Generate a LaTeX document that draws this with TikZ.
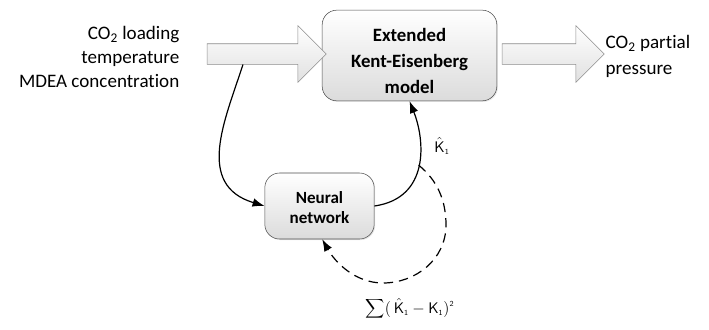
\documentclass[tikz,border=0pt]{standalone}
\usepackage{fontspec}
\setmainfont{Carlito}[Ligatures=NoCommon]
\usetikzlibrary{shapes,arrows.meta,shadows}
\tikzstyle{block} = [rectangle, rounded corners=11pt, draw=black!70,
    top color=white, bottom color=black!14, align=center,
    drop shadow={opacity=0.2, shadow xshift=0.8pt, shadow yshift=-0.8pt}]
\tikzstyle{fatarrow} = [single arrow, draw=black!45, top color=white,
    bottom color=black!12, inner sep=0pt, inner ysep=7.5pt,
    single arrow head extend=13.5pt]
\tikzstyle{line} = [draw, line width=0.9pt, -{Latex[length=9pt,width=6.5pt]}]
\tikzstyle{feedback} = [line, dash pattern=on 7pt off 4.5pt]

\begin{document}
\begin{tikzpicture}[x=0.75pt, y=-0.75pt]
    \useasboundingbox (0,0) rectangle (709,329);
    % Place nodes
    \node [block, minimum width=131pt, minimum height=68pt,
        font=\fontsize{14.1}{19.8}\selectfont\bfseries] (kent) at (409.5,55.5)
        {\rule{0pt}{18pt}Extended\\Kent-Eisenberg\\model};
    \node [block, minimum width=82pt, minimum height=49.5pt,
        font=\fontsize{12.8}{15}\selectfont\bfseries] (neural) at (319.5,206)
        {\rule{0pt}{12pt}Neural\\network};
    \node [fatarrow, minimum height=89.25pt] (inarrow) at (261.5,54) {};
    \node [fatarrow, minimum height=76.5pt] (outarrow) at (548,54) {};
    \node [anchor=east, align=right, font=\fontsize{14.3}{18}\selectfont] (inputs) at (184,57)
        {CO\textsubscript{2} loading\\temperature\\MDEA concentration};
    \node [anchor=west, align=left, font=\fontsize{14.3}{19.5}\selectfont] (output) at (601,56.5)
        {CO\textsubscript{2} partial\\pressure};
    \node [font=\fontsize{11.5}{13}\selectfont] (khat) at (442,146)
        {$\hat{\mathsf{K}}_{\scriptscriptstyle\mathsf{1}}$};
    \node [font=\fontsize{11.5}{13}\selectfont] (loss) at (410,309)
        {$\displaystyle\sum(\,\hat{\mathsf{K}}_{\scriptscriptstyle\mathsf{1}}-\mathsf{K}_{\scriptscriptstyle\mathsf{1}})^{\scriptscriptstyle\mathsf{2}}$};

    % Connectors
    \path [line] ([xshift=-13.9pt]inarrow.south) .. controls (225,120) and (195,185) .. (neural.west);
    \path [line] (neural.east) .. controls (430,198) and (425,140) .. (kent.south)
        coordinate [pos=0.5] (tap);
    \path [feedback] (tap) .. controls (437,180) and (446,200) .. (446,225)
        .. controls (446,260) and (415,283) .. (383,283)
        .. controls (355,283) and (335,262) .. ([xshift=2pt]neural.south);
\end{tikzpicture}
\end{document}
